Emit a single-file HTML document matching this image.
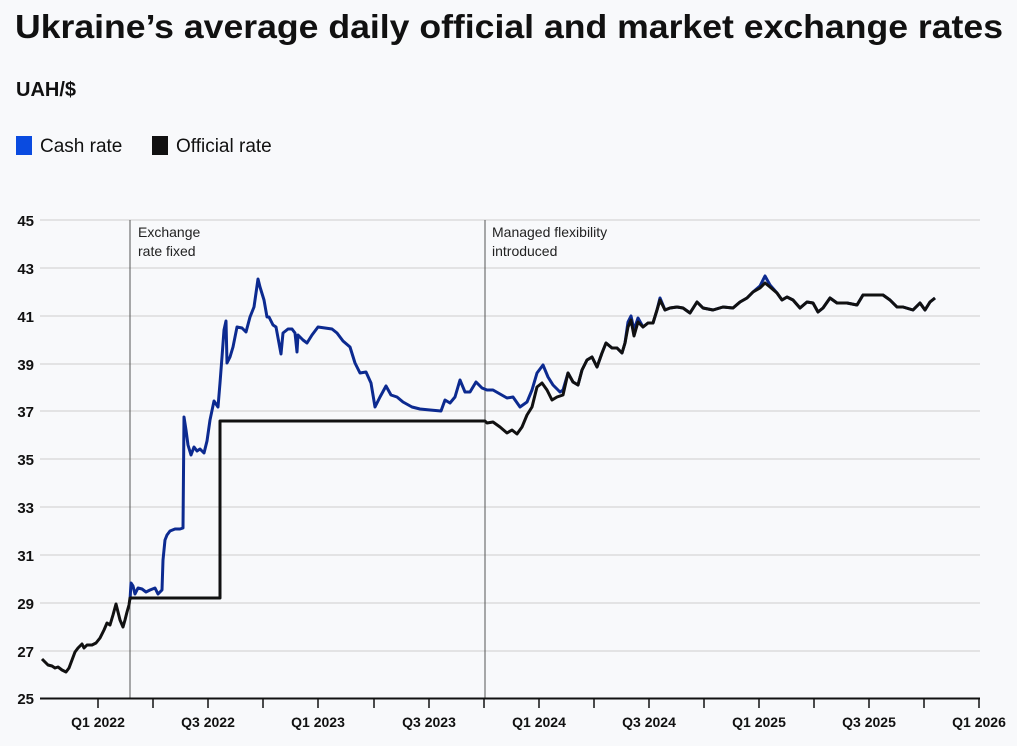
<!DOCTYPE html>
<html><head><meta charset="utf-8"><style>
html,body{margin:0;padding:0;background:#f8f9fb;}
svg{display:block;font-family:"Liberation Sans",sans-serif;}
</style></head><body>
<svg width="1017" height="746" viewBox="0 0 1017 746" xmlns="http://www.w3.org/2000/svg">
<rect width="1017" height="746" fill="#f8f9fb"/>
<text x="15" y="38" font-size="33" font-weight="bold" fill="#111" textLength="988" lengthAdjust="spacingAndGlyphs">Ukraine’s average daily official and market exchange rates</text>
<text x="16" y="96" font-size="20" font-weight="bold" fill="#111">UAH/$</text>
<rect x="16" y="136" width="16" height="19" fill="#0a4be0"/>
<text x="40" y="152" font-size="19" fill="#111">Cash rate</text>
<rect x="152" y="136" width="16" height="19" fill="#111"/>
<text x="176" y="152" font-size="19" fill="#111">Official rate</text>
<g stroke="#d6d6d6" stroke-width="1.2">
<line x1="40" x2="980" y1="220" y2="220"/><line x1="40" x2="980" y1="268" y2="268"/>
<line x1="40" x2="980" y1="316" y2="316"/><line x1="40" x2="980" y1="364" y2="364"/>
<line x1="40" x2="980" y1="411" y2="411"/><line x1="40" x2="980" y1="459" y2="459"/>
<line x1="40" x2="980" y1="507" y2="507"/><line x1="40" x2="980" y1="555" y2="555"/>
<line x1="40" x2="980" y1="603" y2="603"/><line x1="40" x2="980" y1="651" y2="651"/>
</g>
<g font-size="15" font-weight="bold" fill="#111" text-anchor="end">
<text x="34" y="226">45</text><text x="34" y="274">43</text><text x="34" y="322">41</text>
<text x="34" y="370">39</text><text x="34" y="417">37</text><text x="34" y="465">35</text>
<text x="34" y="513">33</text><text x="34" y="561">31</text><text x="34" y="609">29</text>
<text x="34" y="657">27</text><text x="34" y="704">25</text>
</g>
<g stroke="#555" stroke-width="1"><line x1="130" x2="130" y1="220" y2="698"/><line x1="485" x2="485" y1="220" y2="698"/></g>
<g font-size="14" fill="#222">
<text x="138" y="237">Exchange</text><text x="138" y="256">rate fixed</text>
<text x="492" y="237">Managed flexibility</text><text x="492" y="256">introduced</text>
</g>
<line x1="40" x2="980" y1="698.5" y2="698.5" stroke="#111" stroke-width="2"/>
<g stroke="#111" stroke-width="1.5">
<line x1="98" x2="98" y1="698" y2="708"/><line x1="153" x2="153" y1="698" y2="708"/>
<line x1="208" x2="208" y1="698" y2="708"/><line x1="263" x2="263" y1="698" y2="708"/>
<line x1="318" x2="318" y1="698" y2="708"/><line x1="374" x2="374" y1="698" y2="708"/>
<line x1="429" x2="429" y1="698" y2="708"/><line x1="484" x2="484" y1="698" y2="708"/>
<line x1="539" x2="539" y1="698" y2="708"/><line x1="594" x2="594" y1="698" y2="708"/>
<line x1="649" x2="649" y1="698" y2="708"/><line x1="704" x2="704" y1="698" y2="708"/>
<line x1="759" x2="759" y1="698" y2="708"/><line x1="814" x2="814" y1="698" y2="708"/>
<line x1="869" x2="869" y1="698" y2="708"/><line x1="924" x2="924" y1="698" y2="708"/>
<line x1="979" x2="979" y1="698" y2="708"/>
</g>
<g font-size="14" font-weight="bold" fill="#111" text-anchor="middle">
<text x="98" y="727">Q1 2022</text><text x="208" y="727">Q3 2022</text><text x="318" y="727">Q1 2023</text>
<text x="429" y="727">Q3 2023</text><text x="539" y="727">Q1 2024</text><text x="649" y="727">Q3 2024</text>
<text x="759" y="727">Q1 2025</text><text x="869" y="727">Q3 2025</text><text x="979" y="727">Q1 2026</text>
</g>
<polyline fill="none" stroke="#0c2a90" stroke-width="3" stroke-linejoin="round" points="130,600 131,583 133,586 135,594 138,588 142,589 146,592 150,590 155,588 158,594 162,590 163,560 165,540 167,535 170,531 175,529 180,529 183,528 184,417 186,430 188,445 191,455 194,447 197,451 200,449 204,453 207,441 210,420 214,401 218,407 220,383 222,357 224,330 226,321 227,363 230,357 233,347 237,327 242,328 246,332 250,317 254,307 258,279 260,287 264,300 267,317 269,317 273,325 276,327 281,354 283,333 288,329 292,329 295,333 297,352 298,335 303,340 307,343 312,335 318,327 325,328 332,329 337,333 343,341 350,347 355,363 360,373 366,372 371,383 375,407 380,397 386,386 391,395 397,397 403,402 412,407 420,409 430,410 441,411 445,400 450,403 455,397 460,380 465,392 470,392 476,382 482,388 487,390 493,390 507,398 513,397 520,407 527,402 532,390 537,373 543,365 548,377 553,385 560,392 563,390 568,373 573,382 578,385 582,370 587,360 592,357 597,367 602,353 606,343 612,348 617,348 622,353 625,343 628,322 631,316 634,330 638,318 643,327 648,323 653,323 657,310 660,298 665,310 670,308 677,307 683,308 690,313 697,302 703,308 713,310 723,307 733,308 740,302 747,298 753,292 760,286 765,276 770,285 777,293 782,300 787,297 793,300 800,308 807,302 813,303 818,312 823,308 830,298 837,303 847,303 857,305 863,295 873,295 883,295 890,300 897,307 903,307 913,310 920,303 925,310 930,302 935,298"/>
<polyline fill="none" stroke="#111" stroke-width="3" stroke-linejoin="round" points="42,659 45,662 48,665 52,666 55,668 58,667 62,670 66,672 69,668 72,660 75,652 78,648 82,644 84,648 87,645 92,645 96,643 100,638 104,630 107,623 110,625 113,615 116,604 118,612 120,620 123,627 125,620 127,612 129,605 130,598 220,598 220,421 485,421 487,423 493,422 500,427 507,433 512,430 517,434 522,427 527,415 532,407 537,387 542,383 547,390 552,400 557,397 563,395 568,373 573,382 578,385 582,370 587,360 592,357 597,367 602,353 606,343 612,348 617,348 622,353 625,343 628,327 631,320 634,336 638,322 643,327 648,323 653,323 657,310 660,300 665,310 670,308 677,307 683,308 690,313 697,302 703,308 713,310 723,307 733,308 740,302 747,298 753,292 760,288 765,283 770,287 777,293 782,300 787,297 793,300 800,308 807,302 813,303 818,312 823,308 830,298 837,303 847,303 857,305 863,295 873,295 883,295 890,300 897,307 903,307 913,310 920,303 925,310 930,302 935,298"/>
</svg>
</body></html>
